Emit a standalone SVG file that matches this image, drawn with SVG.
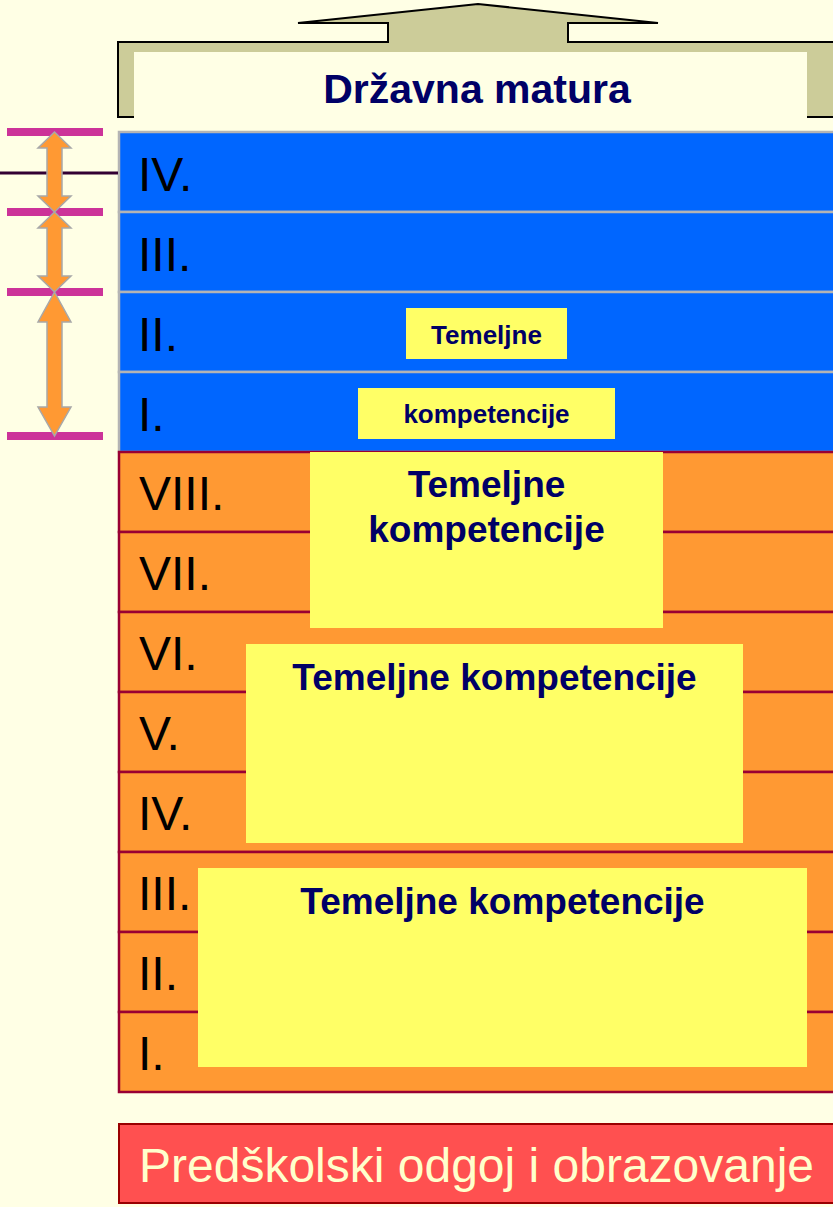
<svg xmlns="http://www.w3.org/2000/svg" width="833" height="1207" viewBox="0 0 833 1207">
<style>
.num{font-family:"Liberation Sans",Arial,sans-serif;font-size:48px;fill:#000000}
.kt{font-family:"Liberation Sans",Arial,sans-serif;font-weight:bold;fill:#000066;text-anchor:middle}
.blue{fill:#0066FF;stroke:#B4B4B4;stroke-width:2.5}
.orange{fill:#FF9933;stroke:#990033;stroke-width:2.5}
.yellow{fill:#FFFF66}
.bar{fill:#CC3399}
.arrow{fill:#FF9933;stroke:#A8A8A8;stroke-width:1.5;stroke-linejoin:miter}
</style>
<rect x="0" y="0" width="833" height="1207" fill="#FFFFE5"/>

<g id="matura">
  <path d="M118,117 V42 H388 V23 H298 L478,4 L658,23 H568 V42 H845 V117 Z" fill="#CCCC99" stroke="#000000" stroke-width="2"/>
  <rect x="134" y="52" width="673" height="79" fill="#FFFFE5"/>
  <text class="kt" x="477" y="103" font-size="41">Državna matura</text>
</g>

<g id="srednja">
  <rect class="blue" x="119" y="132" width="730" height="80"/>
  <rect class="blue" x="119" y="212" width="730" height="80"/>
  <rect class="blue" x="119" y="292" width="730" height="80"/>
  <rect class="blue" x="119" y="372" width="730" height="80"/>
  <text class="num" x="138" y="191">IV.</text>
  <text class="num" x="138" y="271">III.</text>
  <text class="num" x="138" y="351">II.</text>
  <text class="num" x="138" y="431">I.</text>
</g>

<g id="osnovna">
  <rect class="orange" x="119" y="452" width="730" height="80"/>
  <rect class="orange" x="119" y="532" width="730" height="80"/>
  <rect class="orange" x="119" y="612" width="730" height="80"/>
  <rect class="orange" x="119" y="692" width="730" height="80"/>
  <rect class="orange" x="119" y="772" width="730" height="80"/>
  <rect class="orange" x="119" y="852" width="730" height="80"/>
  <rect class="orange" x="119" y="932" width="730" height="80"/>
  <rect class="orange" x="119" y="1012" width="730" height="80"/>
  <text class="num" x="139" y="510">VIII.</text>
  <text class="num" x="139" y="590">VII.</text>
  <text class="num" x="139" y="670">VI.</text>
  <text class="num" x="139" y="750">V.</text>
  <text class="num" x="138" y="830">IV.</text>
  <text class="num" x="138" y="910">III.</text>
  <text class="num" x="138" y="990">II.</text>
  <text class="num" x="138" y="1070">I.</text>
</g>

<g id="tk-srednja-1">
  <rect class="yellow" x="406" y="308" width="161" height="51"/>
  <text class="kt" x="486.5" y="344" font-size="26">Temeljne</text>
</g>
<g id="tk-srednja-2">
  <rect class="yellow" x="358" y="388" width="257" height="51"/>
  <text class="kt" x="486.5" y="423" font-size="26">kompetencije</text>
</g>
<g id="tk-osnovna-3">
  <rect class="yellow" x="310" y="452" width="353" height="176"/>
  <text class="kt" x="486.5" y="497" font-size="37">Temeljne</text>
  <text class="kt" x="486.5" y="542" font-size="37">kompetencije</text>
</g>
<g id="tk-osnovna-2">
  <rect class="yellow" x="246" y="644" width="497" height="199"/>
  <text class="kt" x="494.5" y="690" font-size="37">Temeljne kompetencije</text>
</g>
<g id="tk-osnovna-1">
  <rect class="yellow" x="198" y="868" width="609" height="199"/>
  <text class="kt" x="502.5" y="914" font-size="37">Temeljne kompetencije</text>
</g>

<g id="predskolski">
  <rect x="119" y="1124" width="730" height="79" fill="#FF5050" stroke="#990000" stroke-width="2"/>
  <text x="139" y="1182" font-family="'Liberation Sans',Arial,sans-serif" font-size="48" fill="#FFFFCC">Predškolski odgoj i obrazovanje</text>
</g>

<g id="connectors">
  <line x1="0" y1="173" x2="118" y2="173" stroke="#330033" stroke-width="3"/>
  <rect class="bar" x="7" y="128" width="96" height="8"/>
  <rect class="bar" x="7" y="208" width="96" height="8"/>
  <rect class="bar" x="7" y="288" width="96" height="8"/>
  <rect class="bar" x="7" y="432" width="96" height="8"/>
  <path class="arrow" d="M54.5,132 L71,148 H62 V196 H71 L54.5,212 L38,196 H47 V148 H38 Z"/>
  <path class="arrow" d="M54.5,212 L71,228 H62 V276 H71 L54.5,292 L38,276 H47 V228 H38 Z"/>
  <path class="arrow" d="M54.5,292 L71,322 H62 V407 H71 L54.5,436 L38,407 H47 V322 H38 Z"/>
</g>
</svg>
